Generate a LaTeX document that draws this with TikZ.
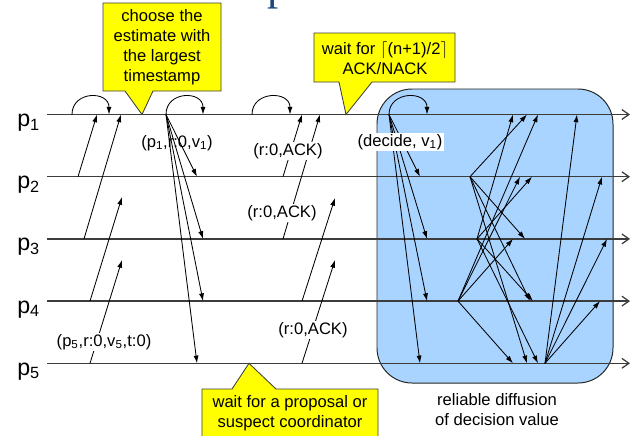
\documentclass[tikz,border=0pt]{standalone}
\usepackage{fontspec}
\setmainfont{Liberation Sans}
\newfontfamily\titlefont{Liberation Serif}
\usetikzlibrary{arrows.meta}
\definecolor{notefill}{RGB}{255,255,0}
\definecolor{diffblue}{RGB}{168,212,255}
\definecolor{linegray}{RGB}{60,60,60}
\definecolor{titleblue}{RGB}{31,73,125}

\begin{document}
\begin{tikzpicture}[
    x=0.025cm, y=-0.025cm,
    >={Latex[length=5.5pt,width=3.6pt]},
    procline/.style={linegray,line width=0.9pt,-{Straight Barb[length=5pt,width=7pt]}},
    msg/.style={->,line width=0.6pt},
    note/.style={draw=linegray,fill=notefill,line width=0.6pt},
    notetext/.style={align=center,inner sep=0pt,font=\fontsize{11.8}{14.2}\selectfont},
    diffbox/.style={draw=black!85,fill=diffblue,line width=0.7pt,rounded corners=0.875cm},
    lbl/.style={fill=white,inner sep=1pt,font=\fontsize{11.8}{14}\selectfont},
    plabel/.style={anchor=base west,inner sep=0pt,font=\fontsize{16.5}{18}\selectfont},
]
\useasboundingbox (0,0) rectangle (631,435);

% === title fragment ===
\node[anchor=base west,inner sep=0pt,titleblue,font=\titlefont\fontsize{32}{32}\selectfont] (title) at (267,-1) {p};

% === reliable diffusion area ===
\draw[diffbox] (377,89) rectangle (613,383);
\node[notetext] (difftext) at (497,410) {reliable diffusion\\of decision value};

% === process lines ===
\foreach \i/\y in {1/114.5,2/176.7,3/238.9,4/301.1,5/363.3} {
    \node[plabel] (p\i) at (17,\y+12) {p\textsubscript{\i}};
    \coordinate (s\i) at (47,\y);
    \coordinate (e\i) at (630,\y);
    \draw[procline] (s\i) -- (e\i);
}

% === estimates to the coordinator ===
\coordinate (est0) at (72,114.5);
\coordinate (est1) at (109,114.5);
\draw[msg] (est0) .. controls +(0,-24) and +(0,-24) .. (est1);
\coordinate (est2) at (78,176.7);
\coordinate (est2r) at (97,114.5);
\coordinate (est3) at (84,238.9);
\coordinate (est3r) at (121,114.5);
\coordinate (est4) at (90,301.1);
\coordinate (est4m) at (122,197);
\coordinate (est5) at (90,363.3);
\coordinate (est5m) at (122,260);
\draw[msg] (est2) -- (est2r);
\draw[msg] (est3) -- (est3r);
\draw[msg] (est4) -- (est4m);
\draw[msg] (est5) -- (est5m);

% === coordinator proposes ===
\coordinate (prop) at (166,114.5);
\coordinate (prop1) at (203,114.5);
\draw[msg] (prop) .. controls +(0,-24) and +(0,-24) .. (prop1);
\foreach \i/\x/\y in {2/197/176.7,3/203/238.9,4/203/301.1,5/197/363.3} {
    \coordinate (prop\i) at (\x,\y);
    \draw[msg] (prop) -- (prop\i);
}

% === acknowledgements ===
\coordinate (ack0) at (252,114.5);
\coordinate (ack1) at (290,114.5);
\draw[msg] (ack0) .. controls +(0,-24) and +(0,-24) .. (ack1);
\coordinate (ack2) at (283,176.7);
\coordinate (ack2r) at (302,114.5);
\coordinate (ack3) at (283,238.9);
\coordinate (ack3r) at (320,114.5);
\coordinate (ack4) at (302,301.1);
\coordinate (ack4m) at (335,198);
\coordinate (ack5) at (302,363.3);
\coordinate (ack5m) at (335,260);
\draw[msg] (ack2) -- (ack2r);
\draw[msg] (ack3) -- (ack3r);
\draw[msg] (ack4) -- (ack4m);
\draw[msg] (ack5) -- (ack5m);

% === decision ===
\coordinate (dec) at (389,114.5);
\coordinate (dec1) at (427,114.5);
\draw[msg] (dec) .. controls +(0,-24) and +(0,-24) .. (dec1);
\foreach \i/\x/\y in {2/420/176.7,3/427/238.9,4/427/301.1,5/420/363.3} {
    \coordinate (dec\i) at (\x,\y);
    \draw[msg] (dec) -- (dec\i);
}

% === relay of the decision ===
\coordinate (rb2) at (470,176.7);
\coordinate (rb3) at (477,238.9);
\coordinate (rb4) at (458,301.1);
\coordinate (rb5) at (545,363.3);
\foreach \s/\t/\x/\y in {2/1/527/114.5, 2/3/525/238.9, 2/4/530/301.1, 2/5/527/363.3,
                         3/1/513/114.5, 3/2/532/176.7, 3/4/533/301.1, 3/5/538/363.3,
                         4/1/538/114.5, 4/2/520/176.7, 4/3/513/238.9, 4/5/513/363.3,
                         5/1/577/114.5, 5/2/602/176.7, 5/3/607/238.9, 5/4/600/301.1} {
    \coordinate (h\s\t) at (\x,\y);
    \draw[msg] (rb\s) -- (h\s\t);
}

% === message labels ===
\node[lbl] (m5) at (104,342) {(p\textsubscript{5},r:0,v\textsubscript{5},t:0)};
\node[lbl,fill=none] (m1) at (177,143) {(p\textsubscript{1},r:0,v\textsubscript{1})};
\node[lbl] (a2) at (288,151) {(r:0,ACK)};
\node[lbl] (a3) at (282,213) {(r:0,ACK)};
\node[lbl] (a5) at (313,330) {(r:0,ACK)};
\node[lbl] (md) at (400,142) {(decide, v\textsubscript{1})};

% === callouts ===
\draw[note] (103,3) -- (221,3) -- (221,91) -- (153,91) -- (142,114.5)
    -- (125,91) -- (103,91) -- cycle;
\node[notetext] (n1) at (162,47) {choose the\\estimate with\\the largest\\timestamp};
\draw[note] (314,33) -- (455,33) -- (455,82) -- (372,82) -- (346,114.5)
    -- (339,82) -- (314,82) -- cycle;
\node[notetext] (n2) at (385,58) {wait for $\lceil$(n+1)/2$\rceil$\\ACK/NACK};
\draw[note] (202,389) -- (232,389) -- (249,363.3) -- (276,389)
    -- (378,389) -- (378,440) -- (202,440) -- cycle;
\node[notetext] (n3) at (290,413) {wait for a proposal or\\suspect coordinator};
\end{tikzpicture}
\end{document}
